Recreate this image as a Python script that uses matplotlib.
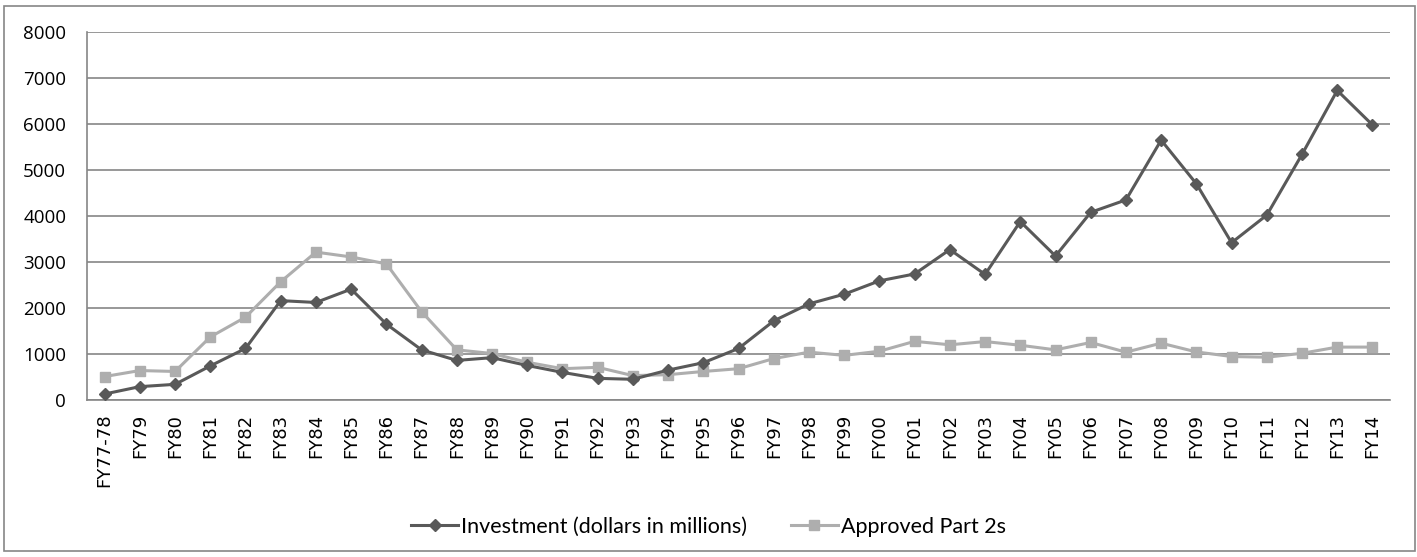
import matplotlib.pyplot as plt
from matplotlib.patches import Rectangle

# fiscal years on the x axis
years = ['FY77-78', 'FY79', 'FY80', 'FY81', 'FY82', 'FY83', 'FY84', 'FY85',
         'FY86', 'FY87', 'FY88', 'FY89', 'FY90', 'FY91', 'FY92', 'FY93',
         'FY94', 'FY95', 'FY96', 'FY97', 'FY98', 'FY99', 'FY00', 'FY01',
         'FY02', 'FY03', 'FY04', 'FY05', 'FY06', 'FY07', 'FY08', 'FY09',
         'FY10', 'FY11', 'FY12', 'FY13', 'FY14']

investment = [130, 290, 340, 740, 1120, 2160, 2120, 2410, 1650, 1090,
              860, 920, 750, 600, 470, 450, 650, 810, 1120, 1720,
              2090, 2300, 2590, 2740, 3270, 2730, 3880, 3130, 4080, 4350,
              5650, 4700, 3420, 4020, 5340, 6730, 5980]

part2s = [510, 640, 620, 1370, 1800, 2570, 3215, 3110, 2960, 1920,
          1090, 1010, 820, 680, 710, 530, 550, 620, 680, 900,
          1040, 970, 1060, 1275, 1200, 1270, 1190, 1090, 1250, 1040,
          1235, 1045, 945, 930, 1015, 1150, 1150]

yticks = [0, 1000, 2000, 3000, 4000, 5000, 6000, 7000, 8000]

grid_col = '#868686'

fig = plt.figure(figsize=(14.17, 5.57), dpi=100)
ax = fig.add_axes([0.0614, 0.2819, 0.9196, 0.6606])

x = list(range(len(years)))
ax.plot(x, investment, color='#595959', lw=2.2, marker='D', ms=6.5,
        label='Investment (dollars in millions)', zorder=4)
ax.plot(x, part2s, color='#AEAEAE', lw=2.2, marker='s', ms=7.5,
        label='Approved Part 2s', zorder=3)

ax.set_xlim(-0.5, len(years) - 0.5)
ax.set_ylim(0, 8000)
ax.set_yticks(yticks)
ax.set_yticklabels([str(v) for v in yticks], fontsize=13.5, family='Open Sans')
ax.set_xticks(x)
ax.set_xticklabels(years, rotation=90, fontsize=13, family='DejaVu Sans')
ax.tick_params(length=0, pad=10)
ax.tick_params(axis='y', pad=15)
ax.grid(axis='y', color=grid_col, lw=1.2)
ax.set_axisbelow(True)
for s in ['top', 'right']:
    ax.spines[s].set_visible(False)
for s in ['left', 'bottom']:
    ax.spines[s].set_color(grid_col)
    ax.spines[s].set_linewidth(1.2)

fig.legend(loc='center', bbox_to_anchor=(0.5, 0.054), ncol=2, frameon=False,
           prop={'family': 'Lato', 'size': 15.5}, handlelength=2.2,
           handletextpad=0.15, columnspacing=2.0)

fig.patches.append(Rectangle((4 / 1417, 1 - 551 / 557), 1411 / 1417, 545 / 557,
                             transform=fig.transFigure, fill=False,
                             edgecolor=grid_col, lw=1.2))

fig.savefig('out.png', dpi=100)
